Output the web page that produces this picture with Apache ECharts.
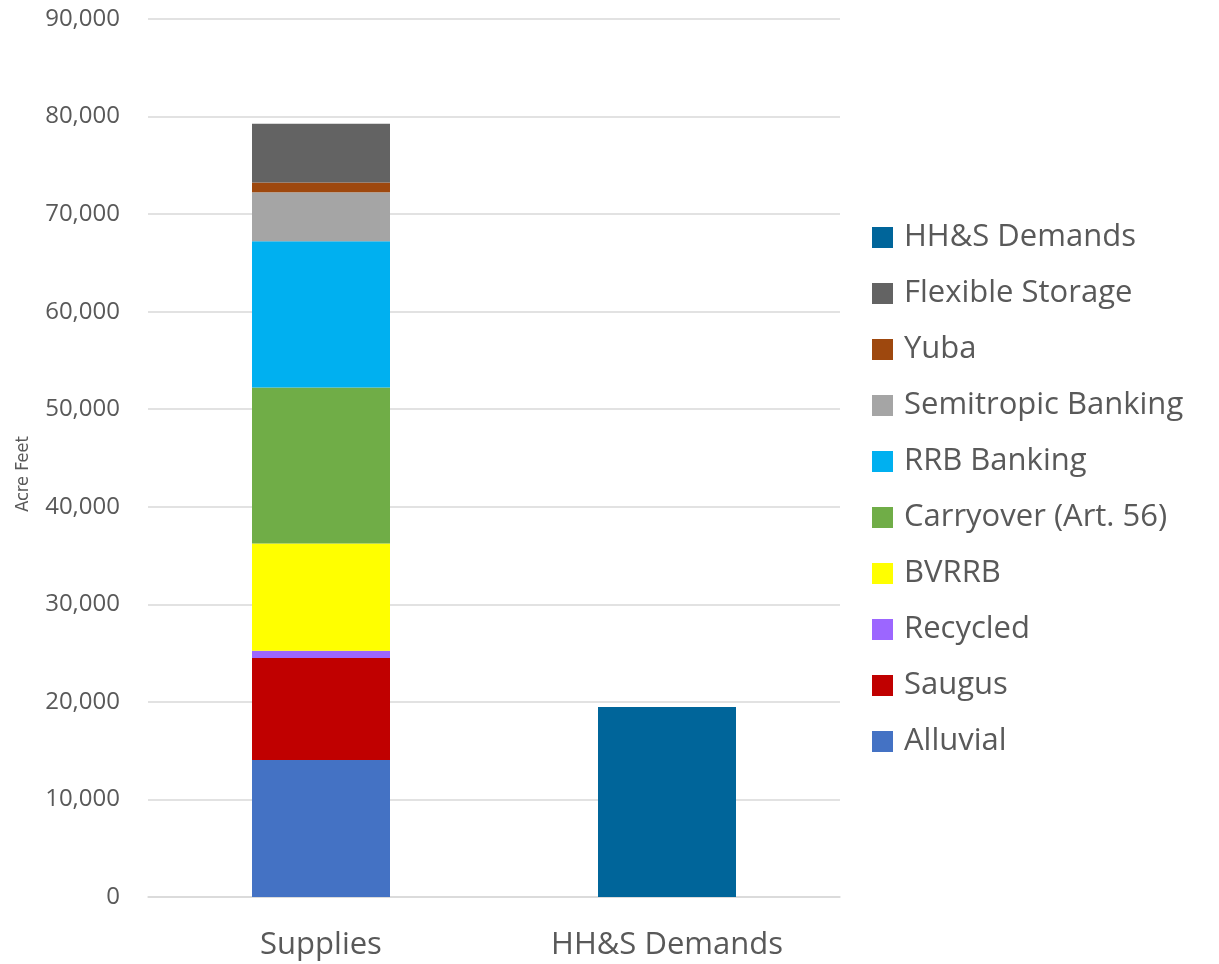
<!DOCTYPE html>
<html>
<head>
<meta charset="utf-8">
<script src="https://cdn.jsdelivr.net/npm/echarts@6/dist/echarts.min.js"></script>
<style>html,body{margin:0;padding:0;background:#fff}#c{width:1219px;height:964px}</style>
</head>
<body>
<div id="c"></div>
<script>
const categories = ["Supplies", "HH&S Demands"];
const seriesNames = ["Alluvial", "Saugus", "Recycled", "BVRRB", "Carryover (Art. 56)", "RRB Banking", "Semitropic Banking", "Yuba", "Flexible Storage", "HH&S Demands"];
const alluvial = [14050, null];
const saugus = [10450, null];
const recycled = [730, null];
const bvrrb = [11000, null];
const carryover = [16000, null];
const rrbBanking = [15000, null];
const semitropic = [5020, null];
const yuba = [1000, null];
const flexibleStorage = [6000, null];
const hhsDemands = [null, 19480];
const yTicks = [0, 10000, 20000, 30000, 40000, 50000, 60000, 70000, 80000, 90000];
const legendOrder = ["HH&S Demands", "Flexible Storage", "Yuba", "Semitropic Banking", "RRB Banking", "Carryover (Art. 56)", "BVRRB", "Recycled", "Saugus", "Alluvial"];

const values = [alluvial, saugus, recycled, bvrrb, carryover, rrbBanking, semitropic, yuba, flexibleStorage, hhsDemands];
const colors = ["#4472C4", "#C00000", "#9C66FF", "#FFFF00", "#70AD47", "#00B0F0", "#A5A5A5", "#9E480E", "#636363", "#00659A"];

const chart = echarts.init(document.getElementById('c'), null, {renderer: 'canvas'});
const font = '"Open Sans", sans-serif';
chart.setOption({
  animation: false,
  backgroundColor: '#fff',
  grid: {left: 148, right: 379, top: 19, bottom: 67, containLabel: false},
  graphic: [{
    type: 'text', x: 23, y: 474, rotation: Math.PI / 2,
    style: {text: 'Acre Feet', fill: '#595959', fontSize: 18,
      fontFamily: '"Liberation Sans Narrow", "DejaVu Sans Condensed", sans-serif',
      textAlign: 'center', textVerticalAlign: 'middle'}
  }],
  legend: {
    orient: 'vertical', left: 867, top: 217,
    itemWidth: 21, itemHeight: 21, itemGap: 25,
    icon: 'rect',
    data: legendOrder,
    textStyle: {fontFamily: font, fontSize: 31, color: '#595959', lineHeight: 30, padding: [0,0,0,6]}
  },
  xAxis: {
    type: 'category', data: categories,
    axisLine: {show: true, lineStyle: {color: '#D9D9D9', width: 1.5}},
    axisTick: {show: false},
    axisLabel: {fontFamily: font, fontSize: 31, color: '#595959', margin: 33}
  },
  yAxis: {
    type: 'value', min: yTicks[0], max: yTicks[yTicks.length-1], interval: yTicks[1]-yTicks[0],
    axisLine: {show: false}, axisTick: {show: false},
    splitLine: {lineStyle: {color: '#D9D9D9', width: 1.5}},
    axisLabel: {fontFamily: font, fontSize: 24, color: '#595959', margin: 28,
      formatter: v => v.toLocaleString('en-US')}
  },
  series: seriesNames.map((n, i) => ({
    name: n, type: 'bar', stack: 'total', data: values[i],
    barWidth: 138,
    itemStyle: {color: colors[i]}
  }))
});
</script>
</body>
</html>
